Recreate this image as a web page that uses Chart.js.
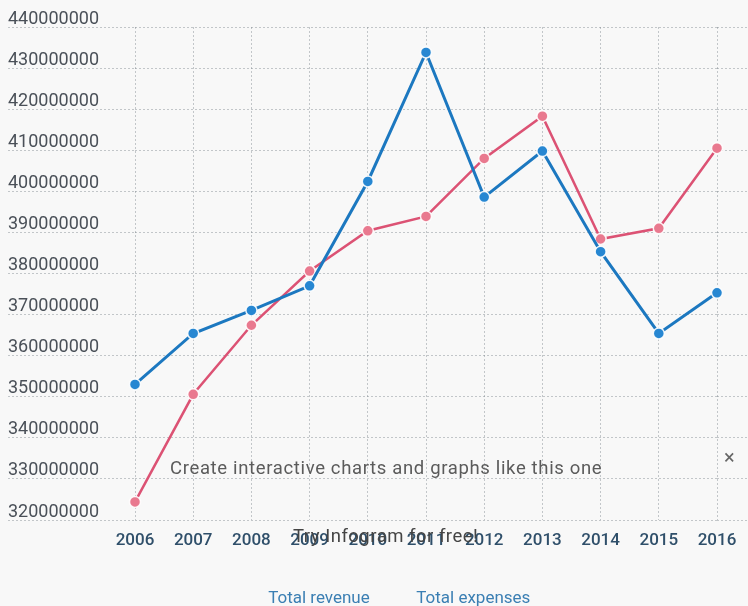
<!DOCTYPE html>
<html>
<head>
<meta charset="utf-8">
<script src="https://cdn.jsdelivr.net/npm/chart.js@4.4.1/dist/chart.umd.min.js"></script>
<style>
html,body{margin:0;padding:0;background:#f8f8f8;overflow:hidden;}
#wrap{position:relative;width:748px;height:606px;overflow:hidden;}
#c{position:absolute;left:0;top:0;}
.ov{position:absolute;font-family:Roboto,"Noto Sans",sans-serif;white-space:nowrap;line-height:1;}
</style>
</head>
<body>
<div id="wrap">
<canvas id="c" width="748" height="617"></canvas>
<div class="ov" style="left:170px;top:459px;font-size:18.5px;letter-spacing:0.65px;color:#5b5b5b;">Create interactive charts and graphs like this one</div>
<div class="ov" style="left:724px;top:447px;font-size:20px;color:#666;">×</div>
<div class="ov" style="left:293px;top:527px;font-size:18.5px;letter-spacing:0.5px;color:#444;">Try Infogram for free!</div>
</div>
<script>
const years = ['2006','2007','2008','2009','2010','2011','2012','2013','2014','2015','2016'];
const totalRevenue = [353000000, 365400000, 371000000, 377000000, 402400000, 433800000, 398600000, 409800000, 385300000, 365400000, 375300000];
const totalExpenses = [324400000, 350600000, 367400000, 380600000, 390400000, 393900000, 408000000, 418300000, 388400000, 391000000, 410500000];
const yTickValues = [320000000, 330000000, 340000000, 350000000, 360000000, 370000000, 380000000, 390000000, 400000000, 410000000, 420000000, 430000000, 440000000];
const seriesNames = ['Total revenue', 'Total expenses'];

const gridColor = 'rgba(120,128,136,0.42)';
const yMin = yTickValues[0], yMax = yTickValues[yTickValues.length - 1];

function setTicks(scale){
  scale.ticks = yTickValues.map(v => ({value: v}));
}

new Chart(document.getElementById('c'), {
  type: 'line',
  data: {
    labels: years,
    datasets: [
      {
        label: seriesNames[0],
        data: totalRevenue,
        borderColor: '#1c78c0',
        backgroundColor: '#2787d2',
        pointBackgroundColor: '#2787d2',
        pointBorderColor: 'rgba(255,255,255,0.9)',
        pointBorderWidth: 1.5,
        pointRadius: 5.5,
        borderWidth: 3,
        tension: 0,
        yAxisID: 'y'
      },
      {
        label: seriesNames[1],
        data: totalExpenses,
        borderColor: '#dc5274',
        backgroundColor: '#e9798f',
        pointBackgroundColor: '#e9798f',
        pointBorderColor: 'rgba(255,255,255,0.9)',
        pointBorderWidth: 1.5,
        pointRadius: 5.5,
        borderWidth: 2.5,
        tension: 0,
        yAxisID: 'y'
      }
    ]
  },
  options: {
    responsive: false,
    animation: false,
    layout: {padding: {left: 8, right: 0, top: 27, bottom: 0}},
    plugins: {
      tooltip: {enabled: false},
      legend: {
        position: 'bottom',
        labels: {
          boxWidth: 34,
          boxHeight: 14,
          padding: 4,
          font: {family: 'Roboto', size: 17},
          color: '#3b7fb3',
          generateLabels: (chart) => chart.data.datasets.map((ds, i) => ({
            text: ds.label,
            fillStyle: 'rgba(0,0,0,0)',
            strokeStyle: 'rgba(0,0,0,0)',
            lineWidth: 0,
            fontColor: '#3b7fb3',
            hidden: false,
            datasetIndex: i
          }))
        }
      }
    },
    scales: {
      x: {
        type: 'category',
        offset: false,
        border: {display: false, dash: [2, 2]},
        grid: {color: gridColor, lineWidth: 1, drawTicks: false, tickLength: 0, borderDash: [2, 2]},
        ticks: {
          autoSkip: false, maxRotation: 0, padding: 11,
          font: {family: 'Roboto', size: 17, weight: '500'},
          color: '#2f4f6a'
        },
        afterFit: (s) => { s.height = 66; }
      },
      y: {
        type: 'linear',
        position: 'left',
        min: yMin, max: yMax,
        afterBuildTicks: setTicks,
        border: {display: false, dash: [2, 2]},
        grid: {color: gridColor, lineWidth: 1, drawTicks: true, tickLength: 127, tickColor: gridColor, tickBorderDash: [2, 2], borderDash: [2, 2]},
        ticks: {
          crossAlign: 'far',
          labelOffset: -8,
          padding: 0,
          font: {family: 'Roboto', size: 18},
          color: '#4a5058',
          callback: (v) => String(v)
        },
        afterFit: (s) => { s.width = 127; }
      },
      yRight: {
        type: 'linear',
        position: 'right',
        min: yMin, max: yMax,
        afterBuildTicks: setTicks,
        border: {display: false, dash: [2, 2]},
        grid: {color: gridColor, drawOnChartArea: false, drawTicks: true, tickLength: 31, tickColor: gridColor, tickBorderDash: [2, 2]},
        ticks: {display: false},
        afterFit: (s) => { s.width = 31; }
      }
    }
  }
});
</script>
</body>
</html>
